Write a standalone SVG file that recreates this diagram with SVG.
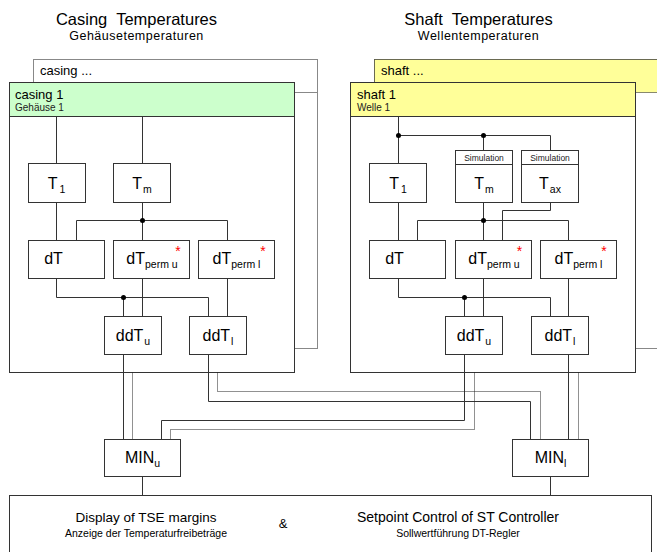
<svg xmlns="http://www.w3.org/2000/svg" width="657" height="552" viewBox="0 0 657 552">
<style>
.box{fill:#fff;stroke:#333;stroke-width:1}
.back{fill:#fff;stroke:#111;stroke-width:1;stroke-dasharray:1 1}
.ln{fill:none;stroke:#333;stroke-width:1}
.gl{fill:none;stroke:#222;stroke-width:1;stroke-dasharray:1 1}
.dot{fill:#000}
text{font-family:"Liberation Sans",Arial,sans-serif;fill:#000}
.ttl{font-size:16.5px;text-anchor:middle;white-space:pre}
.stl{font-size:12.5px;text-anchor:middle;letter-spacing:0.5px}
.hd{font-size:13px}
.hs{font-size:10px;fill:#222}
.lbl{font-size:16px;text-anchor:middle}
.sub{font-size:10.5px}
.sim{font-size:8.5px;text-anchor:middle;fill:#222}
.ast{font-size:14px;fill:#f00;text-anchor:middle}
.big{font-size:14px;text-anchor:middle}
.bs{font-size:10.5px;text-anchor:middle}
</style>

<!-- titles -->
<text class="ttl" x="136.5" y="25">Casing  Temperatures</text>
<text class="stl" x="136.5" y="39.5">Gehäusetemperaturen</text>
<text class="ttl" x="478.5" y="25">Shaft  Temperatures</text>
<text class="stl" x="478.5" y="39.5">Wellentemperaturen</text>

<!-- casing panels -->
<g id="casing-back">
<rect class="back" x="33.5" y="59.5" width="284" height="289"/>
<line class="back" x1="33.5" y1="92.5" x2="317.5" y2="92.5"/>
<text class="hd" x="40" y="75">casing ...</text>
</g>
<g id="casing-1">
<rect class="box" x="9.5" y="82.5" width="285" height="290"/>
<rect x="9.5" y="82.5" width="285" height="34" fill="#ccffcc" stroke="#333"/>
<text class="hd" x="15" y="99">casing 1</text>
<text class="hs" x="15" y="111.3">Gehäuse 1</text>
</g>

<!-- shaft panels -->
<g id="shaft-back">
<rect class="back" x="374.5" y="59.5" width="300" height="289"/>
<rect class="back" x="374.5" y="59.5" width="300" height="33" style="fill:#ffff99"/>
<text class="hd" x="381" y="75">shaft ...</text>
</g>
<g id="shaft-1">
<rect class="box" x="350.5" y="82.5" width="285" height="290"/>
<rect x="350.5" y="82.5" width="285" height="34" fill="#ffff99" stroke="#333"/>
<text class="hd" x="357" y="99">shaft 1</text>
<text class="hs" x="357" y="111.3">Welle 1</text>
</g>

<!-- connectors -->
<g id="connectors">
<!-- casing -->
<path class="ln" d="M56.5 116.5V163.5M142.5 116.5V163.5M56.5 202.5V240.5M142.5 202.5V240.5M76.5 240.5V220.5H227.5V240.5"/>
<path class="ln" d="M56.5 278.5V297.5H208.5V316.5M123.5 297.5V316.5M142.5 278.5V316.5M227.5 278.5V316.5"/>
<circle class="dot" cx="142.5" cy="220.5" r="2.5"/>
<circle class="dot" cx="123.5" cy="297.5" r="2.5"/>
<!-- shaft -->
<path class="ln" d="M398.5 116.5V163.5M398.5 135.5H550.5V150.5M483.5 135.5V150.5M398.5 202.5V240.5M483.5 202.5V240.5M417.5 240.5V220.5H568.5V240.5M550.5 202.5V210.5H502.5V240.5"/>
<path class="ln" d="M398.5 278.5V297.5H550.5V316.5M464.5 297.5V316.5M483.5 278.5V316.5M568.5 278.5V316.5"/>
<circle class="dot" cx="398.5" cy="135.5" r="2.5"/>
<circle class="dot" cx="483.5" cy="135.5" r="2.5"/>
<circle class="dot" cx="483.5" cy="220.5" r="2.5"/>
<circle class="dot" cx="464.5" cy="297.5" r="2.5"/>
<!-- to MIN boxes -->
<path class="ln" d="M123.5 354.5V439.5M208.5 354.5V401.5H530.5V439.5M464.5 354.5V420.5H161.5V439.5M568.5 354.5V439.5"/>
<path class="gl" d="M132.5 372.5V439.5M217.5 372.5V391.5H540.5V439.5M474.5 372.5V429.5H170.5V439.5M578.5 372.5V439.5"/>
<path class="ln" d="M142.5 476.5V495.5M550.5 476.5V495.5"/>
</g>

<!-- casing nodes -->
<g id="c-T1"><rect class="box" x="28.5" y="163.5" width="57" height="39"/><text class="lbl" x="56.5" y="188.5">T<tspan class="sub" dx="2" dy="4">1</tspan></text></g>
<g id="c-Tm"><rect class="box" x="113.5" y="163.5" width="57" height="39"/><text class="lbl" x="142" y="188.5">T<tspan class="sub" dx="1" dy="4">m</tspan></text></g>
<g id="c-dT"><rect class="box" x="28.5" y="240.5" width="76" height="38"/><text class="lbl" x="53.5" y="264">dT</text></g>
<g id="c-dTpu"><rect class="box" x="113.5" y="240.5" width="76" height="38"/><text class="lbl" x="152" y="264">dT<tspan class="sub" dy="4">perm u</tspan></text><text class="ast" x="178" y="256">*</text></g>
<g id="c-dTpl"><rect class="box" x="198.5" y="240.5" width="76" height="38"/><text class="lbl" x="236.5" y="264">dT<tspan class="sub" dy="4">perm l</tspan></text><text class="ast" x="263" y="256">*</text></g>
<g id="c-ddTu"><rect class="box" x="104.5" y="316.5" width="57" height="38"/><text class="lbl" x="133" y="340.5">ddT<tspan class="sub" dx="1" dy="4">u</tspan></text></g>
<g id="c-ddTl"><rect class="box" x="189.5" y="316.5" width="57" height="38"/><text class="lbl" x="218" y="340.5">ddT<tspan class="sub" dx="1" dy="4">l</tspan></text></g>

<!-- shaft nodes -->
<g id="s-T1"><rect class="box" x="369.5" y="163.5" width="57" height="39"/><text class="lbl" x="398" y="188.5">T<tspan class="sub" dx="2" dy="4">1</tspan></text></g>
<g id="s-Tm"><rect class="box" x="455.5" y="150.5" width="57" height="52"/><line class="ln" x1="455.5" y1="164.5" x2="512.5" y2="164.5"/><text class="sim" x="484" y="160.5">Simulation</text><text class="lbl" x="484" y="188.5">T<tspan class="sub" dx="1" dy="4">m</tspan></text></g>
<g id="s-Tax"><rect class="box" x="521.5" y="150.5" width="57" height="52"/><line class="ln" x1="521.5" y1="164.5" x2="578.5" y2="164.5"/><text class="sim" x="550" y="160.5">Simulation</text><text class="lbl" x="550" y="188.5">T<tspan class="sub" dx="1" dy="4">ax</tspan></text></g>
<g id="s-dT"><rect class="box" x="369.5" y="240.5" width="76" height="38"/><text class="lbl" x="394.5" y="264">dT</text></g>
<g id="s-dTpu"><rect class="box" x="455.5" y="240.5" width="76" height="38"/><text class="lbl" x="494" y="264">dT<tspan class="sub" dy="4">perm u</tspan></text><text class="ast" x="519.5" y="256">*</text></g>
<g id="s-dTpl"><rect class="box" x="540.5" y="240.5" width="76" height="38"/><text class="lbl" x="578.5" y="264">dT<tspan class="sub" dy="4">perm l</tspan></text><text class="ast" x="604" y="256">*</text></g>
<g id="s-ddTu"><rect class="box" x="445.5" y="316.5" width="57" height="38"/><text class="lbl" x="474" y="340.5">ddT<tspan class="sub" dx="1" dy="4">u</tspan></text></g>
<g id="s-ddTl"><rect class="box" x="531.5" y="316.5" width="57" height="38"/><text class="lbl" x="560" y="340.5">ddT<tspan class="sub" dx="1" dy="4">l</tspan></text></g>

<!-- MIN nodes -->
<g id="min-u"><rect class="box" x="104.5" y="439.5" width="76" height="37"/><text class="lbl" x="142.5" y="463">MIN<tspan class="sub" dy="4">u</tspan></text></g>
<g id="min-l"><rect class="box" x="512.5" y="439.5" width="76" height="37"/><text class="lbl" x="550.5" y="463">MIN<tspan class="sub" dy="4">l</tspan></text></g>

<!-- output -->
<g id="output">
<rect class="box" x="9.5" y="495.5" width="642" height="70"/>
<text class="big" x="146" y="521.5" style="font-size:13.5px">Display of TSE margins</text>
<text class="bs" x="146" y="536.5">Anzeige der Temperaturfreibeträge</text>
<text class="big" x="283" y="527.5" style="font-size:13px">&amp;</text>
<text class="big" x="458" y="521.5">Setpoint Control of ST Controller</text>
<text class="bs" x="458" y="536.5">Sollwertführung DT-Regler</text>
</g>
</svg>
